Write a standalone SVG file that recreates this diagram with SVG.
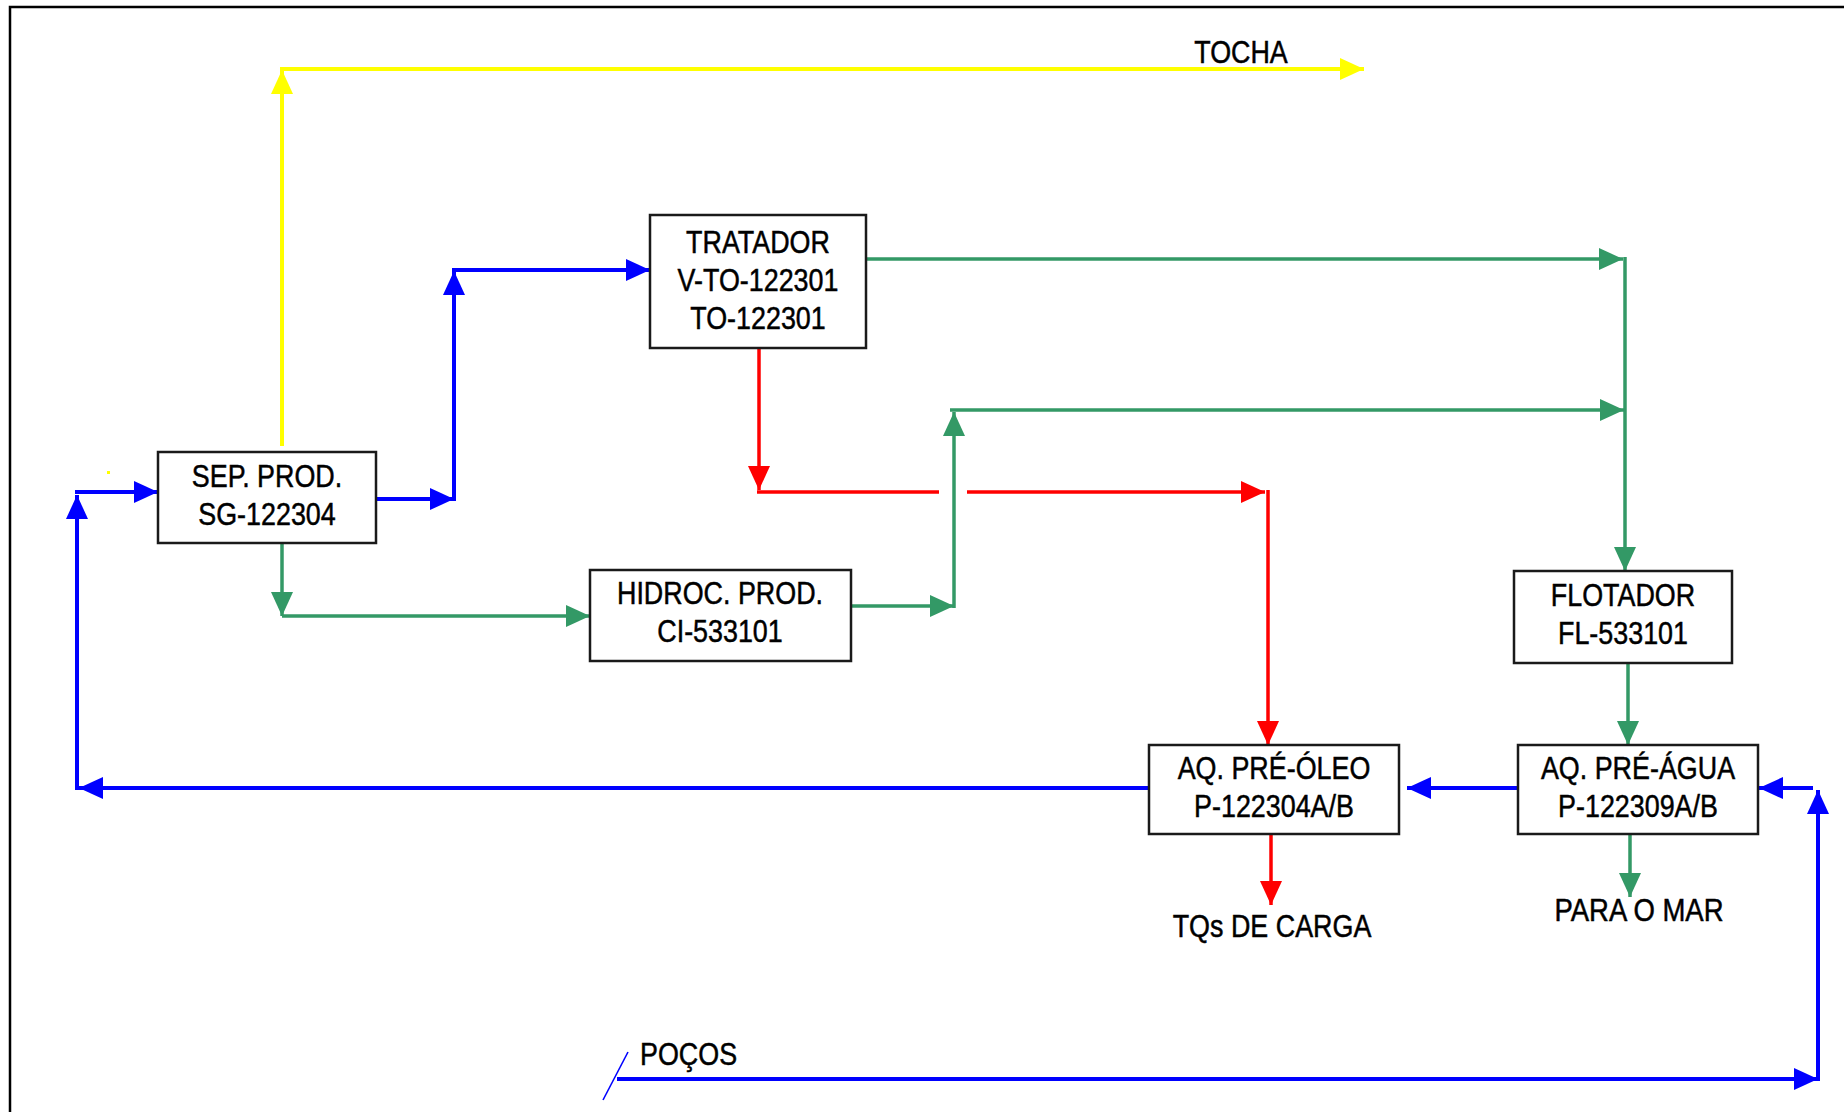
<svg xmlns="http://www.w3.org/2000/svg" width="1844" height="1112" viewBox="0 0 1844 1112">
<style>
.box{fill:#fff;stroke:#1a1a1a;stroke-width:2.5}
.t{font-family:"Liberation Sans",Arial,sans-serif;font-size:32px;fill:#000;stroke:#000;stroke-width:0.5;text-anchor:middle}
.tl{font-family:"Liberation Sans",Arial,sans-serif;font-size:32px;fill:#000;stroke:#000;stroke-width:0.5}
.b{fill:none;stroke:#0000ff;stroke-width:4}
.g{fill:none;stroke:#339966;stroke-width:3.5}
.r{fill:none;stroke:#ff0000;stroke-width:3.5}
.y{fill:none;stroke:#ffff00;stroke-width:4}
</style>
<defs>
<marker id="aB" markerUnits="userSpaceOnUse" markerWidth="24" markerHeight="22" refX="24" refY="11" orient="auto"><path d="M0,0 L24,11 L0,22 z" fill="#0000ff"/></marker>
<marker id="aG" markerUnits="userSpaceOnUse" markerWidth="24" markerHeight="22" refX="24" refY="11" orient="auto"><path d="M0,0 L24,11 L0,22 z" fill="#339966"/></marker>
<marker id="aR" markerUnits="userSpaceOnUse" markerWidth="24" markerHeight="22" refX="24" refY="11" orient="auto"><path d="M0,0 L24,11 L0,22 z" fill="#ff0000"/></marker>
<marker id="aY" markerUnits="userSpaceOnUse" markerWidth="24" markerHeight="22" refX="24" refY="11" orient="auto"><path d="M0,0 L24,11 L0,22 z" fill="#ffff00"/></marker>
</defs>
<rect x="0" y="0" width="1844" height="1112" fill="#fff"/>
<path d="M10,1112 V7 H1844" fill="none" stroke="#000" stroke-width="2.5"/>
<rect x="107" y="471" width="3" height="3" fill="#ffff00"/>

<g id="connectors">
<!-- yellow -->
<path class="y" d="M282,446 V70" marker-end="url(#aY)"/>
<path class="y" d="M280,69 H1364" marker-end="url(#aY)"/>
<!-- blue -->
<path class="b" d="M376,499 H454" marker-end="url(#aB)"/>
<path class="b" d="M454,501 V271" marker-end="url(#aB)"/>
<path class="b" d="M452,270 H650" marker-end="url(#aB)"/>
<path class="b" d="M1149,788 H79" marker-end="url(#aB)"/>
<path class="b" d="M77,790 V495" marker-end="url(#aB)"/>
<path class="b" d="M75,492 H158" marker-end="url(#aB)"/>
<path class="b" d="M1518,788 H1407" marker-end="url(#aB)"/>
<path class="b" d="M617,1079 H1818" marker-end="url(#aB)"/>
<path class="b" d="M1818,1081 V790" marker-end="url(#aB)"/>
<path class="b" d="M1813,788 H1759" marker-end="url(#aB)"/>
<path d="M603,1100 L628,1052" fill="none" stroke="#0000ff" stroke-width="1.6"/>
<!-- green -->
<path class="g" d="M282,543 V616" marker-end="url(#aG)"/>
<path class="g" d="M282,616 H590" marker-end="url(#aG)"/>
<path class="g" d="M851,606 H954" marker-end="url(#aG)"/>
<path class="g" d="M954,608 V412" marker-end="url(#aG)"/>
<path class="g" d="M950,410 H1624" marker-end="url(#aG)"/>
<path class="g" d="M866,259 H1623" marker-end="url(#aG)"/>
<path class="g" d="M1625,257 V571" marker-end="url(#aG)"/>
<path class="g" d="M1628,663 V745" marker-end="url(#aG)"/>
<path class="g" d="M1630,834 V897" marker-end="url(#aG)"/>
<!-- red -->
<path class="r" d="M759,348 V490" marker-end="url(#aR)"/>
<path class="r" d="M757,492 H939"/>
<path class="r" d="M967,492 H1265" marker-end="url(#aR)"/>
<path class="r" d="M1268,490 V745" marker-end="url(#aR)"/>
<path class="r" d="M1271,834 V905" marker-end="url(#aR)"/>
</g>

<g id="sep">
<rect class="box" x="158" y="452" width="218" height="91"/>
<text class="t" transform="translate(267,0) scale(0.84,1)"><tspan x="0" y="487">SEP. PROD.</tspan><tspan x="0" y="525">SG-122304</tspan></text>
</g>
<g id="tratador">
<rect class="box" x="650" y="215" width="216" height="133"/>
<text class="t" transform="translate(758,0) scale(0.84,1)"><tspan x="0" y="253">TRATADOR</tspan><tspan x="0" y="291">V-TO-122301</tspan><tspan x="0" y="329">TO-122301</tspan></text>
</g>
<g id="hidroc">
<rect class="box" x="590" y="570" width="261" height="91"/>
<text class="t" transform="translate(720,0) scale(0.84,1)"><tspan x="0" y="604">HIDROC. PROD.</tspan><tspan x="0" y="642">CI-533101</tspan></text>
</g>
<g id="flotador">
<rect class="box" x="1514" y="571" width="218" height="92"/>
<text class="t" transform="translate(1623,0) scale(0.84,1)"><tspan x="0" y="606">FLOTADOR</tspan><tspan x="0" y="644">FL-533101</tspan></text>
</g>
<g id="aq-oleo">
<rect class="box" x="1149" y="745" width="250" height="89"/>
<text class="t" transform="translate(1274,0) scale(0.84,1)"><tspan x="0" y="779">AQ. PRÉ-ÓLEO</tspan><tspan x="0" y="817">P-122304A/B</tspan></text>
</g>
<g id="aq-agua">
<rect class="box" x="1518" y="745" width="240" height="89"/>
<text class="t" transform="translate(1638,0) scale(0.84,1)"><tspan x="0" y="779">AQ. PRÉ-ÁGUA</tspan><tspan x="0" y="817">P-122309A/B</tspan></text>
</g>
<g id="labels">
<text class="t" transform="translate(1241,63) scale(0.84,1)">TOCHA</text>
<text class="t" transform="translate(1272,937) scale(0.84,1)">TQs DE CARGA</text>
<text class="t" transform="translate(1639,921) scale(0.86,1)">PARA O MAR</text>
<text class="tl" transform="translate(640,1065) scale(0.84,1)">POÇOS</text>
</g>
</svg>
